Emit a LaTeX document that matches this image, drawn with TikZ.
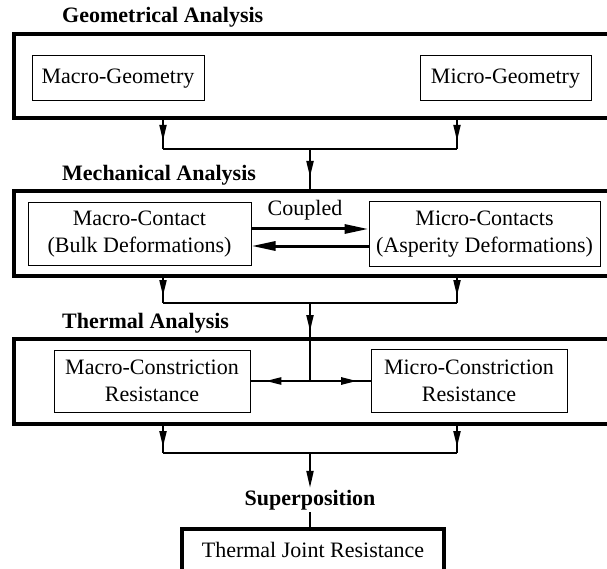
\documentclass[tikz,border=0pt]{standalone}
\usepackage{fontspec}
\setmainfont{Liberation Serif}
\usetikzlibrary{arrows.meta,positioning,decorations.markings}
\tikzset{
    stage/.style={
        draw,
        rectangle,
        line width=4pt,
        minimum width=646pt,
        inner sep=0pt
    },
    part/.style={
        draw,
        rectangle,
        line width=1pt,
        align=center,
        inner sep=0pt
    },
    heading/.style={
        font=\fontsize{22pt}{27pt}\selectfont\bfseries,
        anchor=west,
        inner sep=0pt
    },
    link/.style={
        line width=2pt
    },
    coupled/.style={
        line width=3pt,
        -{Triangle[length=24pt,width=9pt]}
    },
    endarrow/.style={
        -{Triangle[length=17pt,width=7pt]}
    },
    midarrow/.style={
        postaction={decorate},
        decoration={markings,
            mark=at position #1 with {\arrow{Triangle[length=16pt,width=7pt]}}}
    }
}
\begin{document}
\begin{tikzpicture}[x=1pt, y=-1pt, font=\fontsize{22pt}{27pt}\selectfont]
    \useasboundingbox (0,0) rectangle (607,569);
    \coordinate (tapL) at (163,0);
    \coordinate (tapR) at (457,0);

    % Geometrical analysis
    \node[heading] (geoHead) at (62,17) {Geometrical Analysis};
    \node[stage, minimum height=84pt] (geo) at (337,76) {};
    \node[part, minimum width=172pt, minimum height=45pt] (geoMacro) at (118,78.5) {Macro-Geometry};
    \node[part, minimum width=171pt, minimum height=45pt, right=215pt of geoMacro] (geoMicro) {Micro-Geometry};

    % Mechanical analysis
    \node[heading] (mechHead) at (62,175) {Mechanical Analysis};
    \node[stage, minimum height=85pt] (mech) at (337,233.5) {};
    \node[part, minimum width=223pt, minimum height=62pt] (mechMacro) at (139.5,234) {Macro-Contact\\(Bulk Deformations)};
    \node[part, minimum width=231pt, minimum height=65pt, right=117pt of mechMacro] (mechMicro) {Micro-Contacts\\(Asperity Deformations)};
    \node (coupledLabel) at (305,210) {Coupled};

    % Thermal analysis
    \node[heading] (thermHead) at (62,323) {Thermal Analysis};
    \node[stage, minimum height=85pt] (therm) at (337,381.5) {};
    \node[part, minimum width=196pt, minimum height=62pt] (thermMacro) at (152,381) {Macro-Constriction\\Resistance};
    \node[part, minimum width=196pt, minimum height=63pt, right=120pt of thermMacro] (thermMicro) {Micro-Constriction\\Resistance};

    % Superposition
    \node[heading, anchor=center, inner sep=2pt] (supHead) at (310,500) {Superposition};
    \node[draw, line width=4pt, minimum width=262pt, text height=15pt, text depth=50pt, inner ysep=13pt, anchor=base] (result) at (313,557) {Thermal Joint Resistance};

    % Geometry to mechanics
    \coordinate (geoJoin) at (310,149);
    \draw[link, midarrow=0.72] (geo.south -| tapL) -- (geoJoin -| tapL);
    \draw[link, midarrow=0.72] (geo.south -| tapR) -- (geoJoin -| tapR);
    \draw[link] (geoJoin -| tapL) -- (geoJoin -| tapR);
    \draw[link, midarrow=0.7] (geoJoin) -- (mech.north -| geoJoin);

    % Coupling
    \draw[coupled] ([yshift=5pt]mechMacro.east) -- ([yshift=5pt]mechMacro.east -| mechMicro.west);
    \draw[coupled] ([yshift=-12pt]mechMacro.east -| mechMicro.west) -- ([yshift=-12pt]mechMacro.east);

    % Mechanics to thermal
    \coordinate (mechJoin) at (310,303);
    \coordinate (thermSplit) at (310,381);
    \draw[link, midarrow=0.72] (mech.south -| tapL) -- (mechJoin -| tapL);
    \draw[link, midarrow=0.72] (mech.south -| tapR) -- (mechJoin -| tapR);
    \draw[link] (mechJoin -| tapL) -- (mechJoin -| tapR);
    \draw[link, midarrow=0.36] (mechJoin) -- (thermSplit);
    \draw[link, line width=2.5pt, midarrow=0.75] (thermSplit) -- (thermMacro.east);
    \draw[link, line width=2.5pt, midarrow=0.78] (thermSplit) -- (thermMicro.west |- thermSplit);

    % Thermal to result
    \coordinate (thermJoin) at (310,453);
    \draw[link, midarrow=0.78] (therm.south -| tapL) -- (thermJoin -| tapL);
    \draw[link, midarrow=0.78] (therm.south -| tapR) -- (thermJoin -| tapR);
    \draw[link] (thermJoin -| tapL) -- (thermJoin -| tapR);
    \draw[link, endarrow] (thermJoin) -- (supHead);
    \draw[link] (supHead.south) -- (supHead.south |- result.north);
\end{tikzpicture}
\end{document}
